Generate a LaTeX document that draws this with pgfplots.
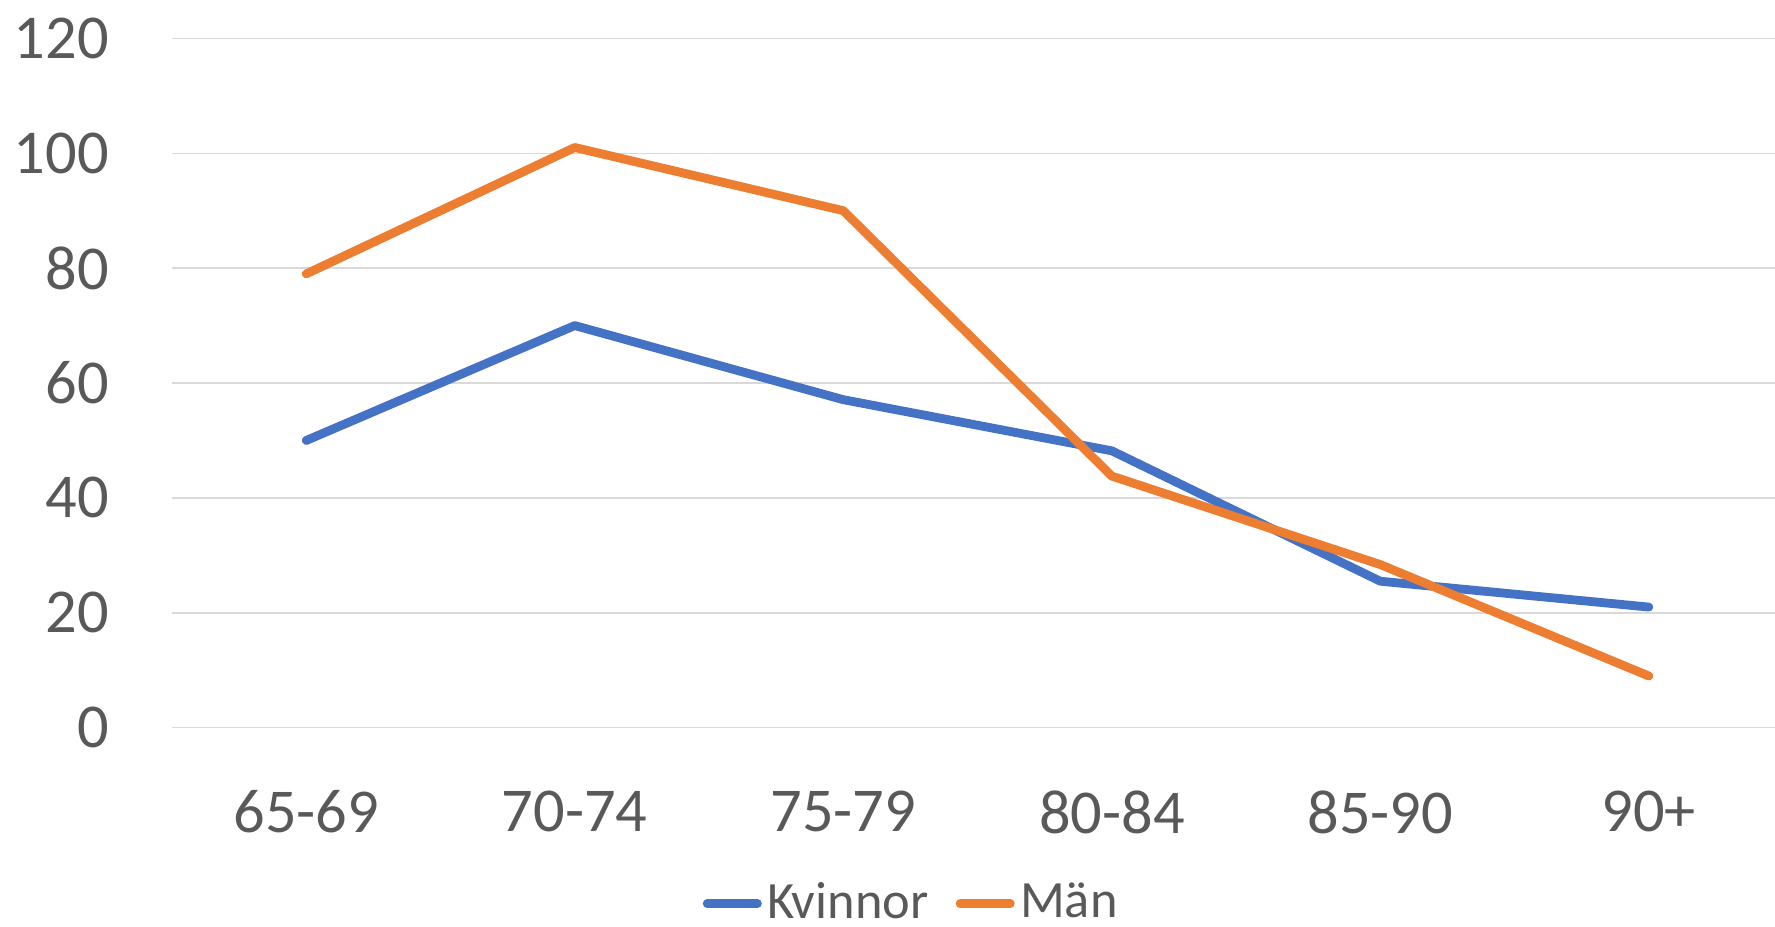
\documentclass[border=0pt]{standalone}
\usepackage{fontspec}
\setmainfont{Carlito}
\usepackage{pgfplots}
\pgfplotsset{compat=1.18}
\definecolor{kblue}{HTML}{4472C4}
\definecolor{morange}{HTML}{ED7D31}
\definecolor{txt}{HTML}{595959}
\definecolor{grd}{HTML}{D9D9D9}
\begin{document}
\begin{tikzpicture}
\begin{axis}[
  at={(0,0)}, anchor=south west,
  scale only axis, width=400.75pt, height=172.35pt,
  xmin=-0.5, xmax=5.47, ymin=0, ymax=120,
  ytick={0,20,...,120},
  xtick={0,...,5},
  xticklabels={65-69,70-74,75-79,80-84,85-90,90+},
  axis line style={draw=none},
  tick style={draw=none},
  major tick length=0pt,
  ymajorgrids,
  grid style={grd, line width=0.35pt},
  ticklabel style={font=\fontsize{15.6}{18}\selectfont, text=txt},
  /pgf/number format/assume math mode=true,
  yticklabel style={anchor=east, inner sep=0pt, xshift=-15.6pt},
  xticklabel style={anchor=north, inner sep=0pt, yshift=-15.5pt},
  legend style={at={(0.4605,-0.255)}, anchor=center, draw=none, fill=none,
    legend columns=2, font=\fontsize{13.1}{16}\selectfont, text=txt,
    nodes={inner sep=0pt},
    /tikz/every even column/.append style={column sep=6.8pt}},
  legend image code/.code={\draw[#1, line cap=round] (1.1pt,0pt) -- (13.65pt,0pt); \path (15pt,0pt);},
]
\addplot[kblue, line width=2.2pt, line cap=round, line join=round]
  coordinates {(0,50) (1,70) (2,57.1) (3,48.2) (4,25.5) (5,21)};
\addlegendentry{Kvinnor}
\addplot[morange, line width=2.2pt, line cap=round, line join=round]
  coordinates {(0,79) (1,101) (2,90) (3,43.8) (4,28.4) (5,9)};
\addlegendentry{Män}
\end{axis}
\pgfresetboundingbox
\path[use as bounding box] (-43pt,-49.575pt) rectangle (400.75pt,181.925pt);
\end{tikzpicture}
\end{document}
